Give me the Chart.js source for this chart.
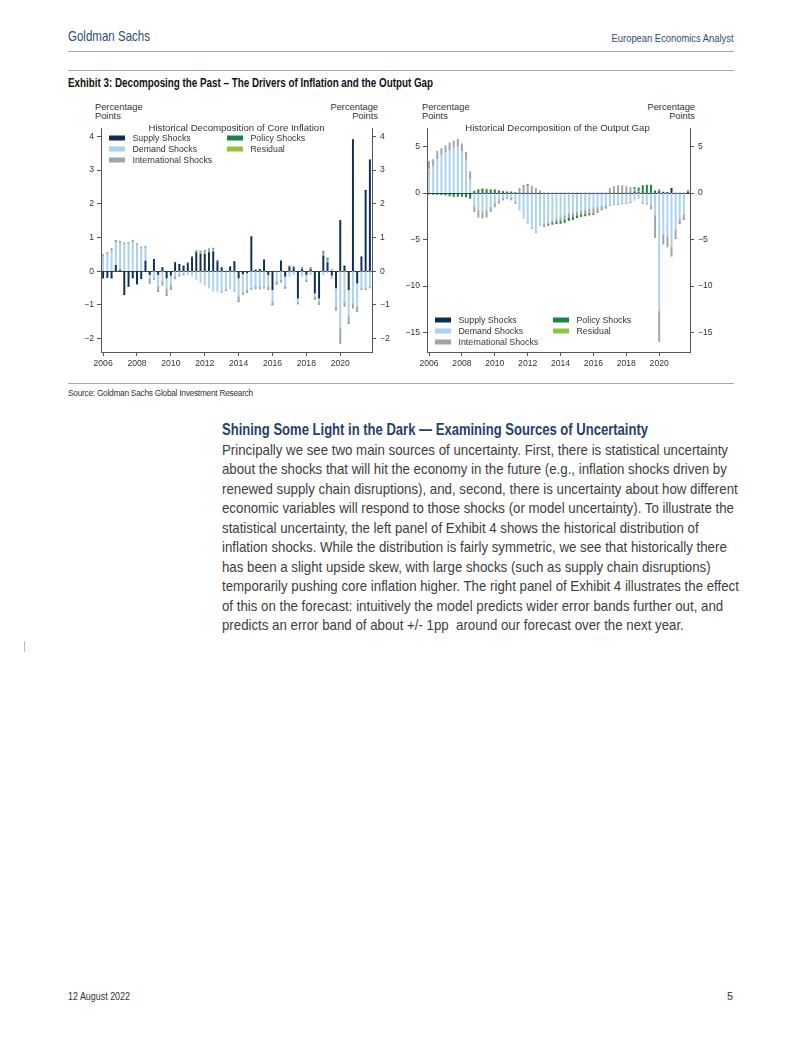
<!DOCTYPE html>
<html>
<head>
<meta charset="utf-8">
<script src="https://cdn.jsdelivr.net/npm/chart.js@4.4.1/dist/chart.umd.min.js"></script>
<style>
  html,body{margin:0;padding:0;background:#fff;}
  body{width:802px;height:1037px;position:relative;overflow:hidden;font-family:"Liberation Sans",Arial,sans-serif;-webkit-font-smoothing:antialiased;}
  .abs{position:absolute;white-space:nowrap;}
  .rule{position:absolute;left:68px;width:666px;height:1px;background:#a8a8a8;}
  .pp{position:absolute;font-family:"Liberation Sans",Arial,sans-serif;font-size:9.3px;line-height:9px;color:#333;}
  #para{position:absolute;left:222px;top:440px;font-size:15px;line-height:19.45px;color:#3d3d3d;white-space:nowrap;}
</style>
</head>
<body>
<div class="abs fit" data-w="82" style="left:68px;top:27px;font-size:14.5px;line-height:18px;color:#2e4d70;">Goldman Sachs</div>
<div class="abs fit" data-w="122" data-o="right" style="right:68px;top:30px;font-size:11.5px;line-height:16px;color:#2e4d70;">European Economics Analyst</div>
<div class="rule" style="top:51px;"></div>
<div class="rule" style="top:70px;"></div>
<div class="abs fit" data-w="365" style="left:68px;top:75px;font-size:12px;line-height:16px;font-weight:bold;color:#111;">Exhibit 3: Decomposing the Past – The Drivers of Inflation and the Output Gap</div>

<div class="pp" style="left:95px;top:103px;">Percentage<br>Points</div>
<div class="pp" style="left:328px;top:103px;width:50px;text-align:right;">Percentage<br>Points</div>
<div class="pp" style="left:422px;top:103px;">Percentage<br>Points</div>
<div class="pp" style="left:645px;top:103px;width:50px;text-align:right;">Percentage<br>Points</div>

<div style="position:absolute;left:60px;top:95px;width:335px;height:280px;"><canvas id="c1" width="335" height="280"></canvas></div>
<div style="position:absolute;left:400px;top:95px;width:340px;height:280px;"><canvas id="c2" width="340" height="280"></canvas></div>

<div class="rule" style="top:383px;"></div>
<div class="abs" style="left:68px;top:388px;font-size:8.3px;line-height:11px;letter-spacing:-0.25px;color:#333;">Source: Goldman Sachs Global Investment Research</div>

<div class="abs fit" data-w="426" style="left:222px;top:420px;font-size:16px;line-height:20px;font-weight:bold;color:#1f416b;">Shining Some Light in the Dark — Examining Sources of Uncertainty</div>
<div id="para"><span id="l1">Principally we see two main sources of uncertainty. First, there is statistical uncertainty</span><br>about the shocks that will hit the economy in the future (e.g., inflation shocks driven by<br>renewed supply chain disruptions), and, second, there is uncertainty about how different<br>economic variables will respond to those shocks (or model uncertainty). To illustrate the<br>statistical uncertainty, the left panel of Exhibit 4 shows the historical distribution of<br>inflation shocks. While the distribution is fairly symmetric, we see that historically there<br>has been a slight upside skew, with large shocks (such as supply chain disruptions)<br>temporarily pushing core inflation higher. The right panel of Exhibit 4 illustrates the effect<br>of this on the forecast: intuitively the model predicts wider error bands further out, and<br>predicts an error band of about +/- 1pp&nbsp; around our forecast over the next year.</div>

<div style="position:absolute;left:24px;top:641px;width:1px;height:11px;background:#bbb;"></div>

<div class="abs fit" data-w="62" style="left:68px;top:989px;font-size:11.5px;line-height:14px;color:#333;">12 August 2022</div>
<div class="abs" style="right:69px;top:989px;font-size:11px;line-height:14px;color:#333;">5</div>

<script>
// ---------- DATA ----------
const quarters = [];
for (let y = 2006; y <= 2021; y++) { for (let q = 1; q <= 4; q++) quarters.push(y + 'Q' + q); }
const seriesNames = ['Supply Shocks', 'Demand Shocks', 'International Shocks', 'Policy Shocks', 'Residual'];
const seriesColors = ['#0e2f53', '#a9d2ef', '#a3a3a3', '#17843f', '#8cc540'];

// Core inflation decomposition (pp)
const supplyInf = [-0.2,-0.18,-0.2,0.17,0.03,-0.7,-0.45,-0.2,-0.38,-0.22,0.3,-0.1,0.35,-0.1,0.1,-0.2,
  -0.12,0.25,0.2,0.15,0.22,0.4,0.55,0.5,0.5,0.55,0.57,0.28,0.1,0.0,0.12,0.28,
  -0.2,-0.08,-0.05,1.02,0.03,0.05,0.33,-0.1,-0.55,0.0,0.3,-0.15,0.12,0.1,-0.8,0.05,
  -0.1,0.05,-0.65,-0.8,0.45,0.25,-0.12,-0.5,1.5,0.15,-0.55,3.9,-0.35,0.42,2.4,3.3];
const demandInf = [0.45,0.5,0.6,0.68,0.8,0.8,0.82,0.85,0.78,0.68,0.4,-0.12,-0.2,-0.35,-0.3,-0.32,
  -0.3,-0.15,-0.1,-0.08,-0.1,-0.15,-0.25,-0.35,-0.42,-0.5,-0.6,-0.6,-0.6,-0.55,-0.52,-0.55,
  -0.55,-0.55,-0.5,-0.5,-0.45,-0.45,-0.45,-0.35,-0.35,-0.3,-0.25,-0.3,-0.15,-0.1,-0.12,-0.15,
  -0.15,-0.1,-0.1,-0.1,-0.1,-0.05,-0.1,-0.55,-1.7,-0.9,-0.8,-0.95,-0.7,-0.5,-0.5,-0.45];
const intlInf = [0.05,0.06,0.08,0.05,0.05,0.05,0.04,0.05,0.04,0.04,0.02,-0.13,-0.05,-0.15,-0.12,-0.2,
  -0.12,-0.08,-0.05,-0.04,0.03,0.03,0.05,0.08,0.1,0.1,0.1,0.03,-0.03,-0.02,0.02,-0.05,
  -0.15,-0.05,-0.08,-0.05,-0.08,-0.08,-0.06,-0.1,-0.1,-0.08,-0.08,-0.05,0.03,0.03,-0.05,0.05,
  -0.05,0.05,-0.08,-0.08,0.1,0.1,0.05,-0.1,-0.45,-0.15,-0.2,-0.15,-0.15,-0.05,-0.05,-0.05];
const policyInf = [0,0,0,0,0,0,0,0,0,0,0,0,0,0,0,0,
  0,0,0,0,0,0,0,0,0,0,0,0,0,0,0,0,
  0,0,0,0,0,0,0,0,0,0,0,0,0,0,0,0,
  0,0,0,0,0.02,0.02,0,0,0,0,0,0,0,0,0,0];
const residualInf = [0,0,0,0.01,0,0,0,0.02,0,0,0,0,0,0,0,0,
  0,0,0,0,0,0,0,0.02,0.02,0.02,0.02,0,0,0,0,0,
  0,0,0,0,0,0,0,0,0,0,0,0,0,0,0,0,
  0,0,0,0,0.03,0.03,0,0,0,0,0,0,0,0,0,0];

// Output gap decomposition (pp)
const supplyGap = [-0.05,-0.05,-0.05,-0.05,-0.05,-0.05,-0.05,-0.05,-0.05,-0.05,-0.1,0,0,0,0,0,
  0,0,0,0,0,0,0,0,0,0,0,0,0,0,0,0,
  0,0,0,0,0,0,0,0,0,0,0,0,0,0,0,0,
  0,0,0.1,0.05,0,0,0,0,0.1,0.05,0.05,0.5,0,0,0,0.1];
const demandGap = [2.6,2.9,3.7,4.1,4.4,4.6,4.9,5.0,4.5,3.6,1.5,
  -1.4,-1.9,-2.0,-1.9,-1.5,-1.1,-0.8,-0.55,-0.4,-0.5,-0.9,-1.8,-2.7,-3.3,-3.8,-4.2,-3.5,
  -3.3,-3.2,-3.0,-2.8,-2.6,-2.4,-2.2,-2.1,-2.0,-1.9,-1.8,-1.7,-1.6,-1.5,-1.4,-1.3,
  -1.3,-1.2,-1.2,-1.1,-1.1,-1.0,-0.8,-0.6,
  -1.0,-1.1,-1.3,
  -2.4,-12.7,-4.5,-4.7,-5.8,-4.0,-2.8,-2.3,0];
const intlGap = [0.8,0.7,0.8,0.7,0.7,0.8,0.7,0.8,0.8,0.8,0.8,
  -0.6,-0.7,-0.7,-0.7,-0.5,-0.4,-0.3,-0.2,-0.2,-0.25,-0.2,0.4,0.75,0.9,0.75,0.5,0.25,
  -0.2,-0.15,-0.2,-0.3,-0.4,-0.45,-0.45,-0.45,-0.4,-0.4,-0.45,-0.5,-0.6,-0.5,-0.4,-0.3,
  0.5,0.7,0.8,0.8,0.7,0.6,0.4,0.2,
  -0.1,-0.1,-0.4,
  -2.4,-3.3,-1.0,-1.1,-1.0,-0.9,-0.5,-0.5,0.15];
const policyGap = [-0.05,-0.08,-0.1,-0.12,-0.15,-0.25,-0.3,-0.3,-0.3,-0.35,-0.45,
  0.15,0.3,0.4,0.35,0.3,0.3,0.2,0.15,0.1,0.1,0.05,0.05,0.05,0.05,0,0,0,
  -0.05,-0.1,-0.15,-0.2,-0.25,-0.3,-0.3,-0.3,-0.25,-0.2,-0.2,-0.15,-0.1,-0.05,0,0,
  0,0,0,0,0,0,0.1,0.3,
  0.8,0.85,0.85,
  0.25,0.1,0.05,0,0,0,0,0,0];
const residualGap = [0,0,0,0,0,0,0,0,0,0,0,
  0.1,0.1,0.1,0.1,0.1,0.1,0.1,0.05,0.05,0.05,0,0,0,0,0,0,0,
  0,0,0,0,0,0,0,0,0,0,0,0,0,0,0,0,
  0,0,0,0,0,0,0,0,
  0,0,0,
  0,0.2,0,0,0,0,0,0,0];

const yTicksInf = {min: -2.4, max: 4.25, step: 1};
const yTicksGap = {min: -17.1, max: 7, step: 5};
const yearLabelEvery = 8;

// ---------- TEXT FITTING (page typography is condensed) ----------
document.querySelectorAll('.fit').forEach(el => {
  const w = el.getBoundingClientRect().width;
  el.style.transformOrigin = (el.dataset.o || 'left') + ' center';
  el.style.transform = 'scaleX(' + (parseFloat(el.dataset.w) / w) + ')';
});
(function(){
  const para = document.getElementById('para');
  const w = document.getElementById('l1').getBoundingClientRect().width;
  para.style.transformOrigin = 'left top';
  para.style.transform = 'scaleX(' + (506 / w) + ')';
})();

// ---------- CHART SETUP ----------
const FONT = '"Liberation Sans", Arial, sans-serif';
const AXIS = '#555';
function minusFmt(v){ return v < 0 ? '\u2212' + Math.abs(v) : String(v); }

const overlayPlugin = {
  id: 'overlay',
  afterDraw(chart, args, o) {
    const {ctx, chartArea: a} = chart;
    ctx.save();
    ctx.fillStyle = '#333';
    ctx.font = '9.6px ' + FONT;
    ctx.textAlign = 'center';
    ctx.textBaseline = 'middle';
    ctx.fillText(o.title, (a.left + a.right) / 2 + o.titleDx, a.top + 0.5);
    ctx.textAlign = 'left';
    ctx.font = '8.8px ' + FONT;
    const slots = [[0,0],[0,1],[0,2],[1,0],[1,1]];
    slots.forEach((s, i) => {
      const ds = chart.data.datasets[i];
      const x = a.left + o.lx + s[0] * o.colW;
      const y = a.top + o.ly + s[1] * o.rowH;
      ctx.fillStyle = ds.backgroundColor;
      ctx.fillRect(x, y - 2.5, 16, 5);
      ctx.fillStyle = '#333';
      ctx.fillText(ds.label, x + 23.5, y + 0.5);
    });
    ctx.restore();
  }
};

function makeChart(id, series, yr, leftW, rightW, overlay) {
  const datasets = series.map((d, i) => ({
    label: seriesNames[i], data: d, backgroundColor: seriesColors[i],
    borderWidth: 0, barThickness: 1.3, stack: 's'
  }));
  return new Chart(document.getElementById(id), {
    type: 'bar',
    data: { labels: quarters, datasets },
    plugins: [overlayPlugin],
    options: {
      responsive: false, animation: false,
      layout: { padding: { top: 33, left: 0, right: 0, bottom: 0 } },
      plugins: { legend: { display: false }, tooltip: { enabled: false }, overlay },
      scales: {
        x: {
          stacked: true, offset: true,
          afterFit(s) { s.height = 23; },
          grid: { drawOnChartArea: false, offset: false, tickLength: 4,
                  tickColor: c => (c.index % yearLabelEvery === 0 ? AXIS : 'rgba(0,0,0,0)') },
          border: { display: true, color: AXIS, width: 1 },
          ticks: { autoSkip: false, maxRotation: 0, minRotation: 0, padding: 2, color: '#333',
                   font: { family: FONT, size: 8.6 },
                   callback: (v, i) => (i % yearLabelEvery === 0 ? quarters[i].slice(0, 4) : '') }
        },
        y: {
          stacked: true, position: 'left', min: yr.min, max: yr.max,
          afterFit(s) { s.width = leftW; },
          grid: { drawOnChartArea: true, tickLength: 4, tickColor: AXIS,
                  color: c => (c.tick && c.tick.value === 0 ? '#444' : 'rgba(0,0,0,0)') },
          border: { display: true, color: AXIS, width: 1 },
          ticks: { stepSize: yr.step, includeBounds: false, padding: 3, color: '#333',
                   font: { family: FONT, size: 8.6 }, callback: minusFmt }
        },
        y2: {
          position: 'right', min: yr.min, max: yr.max,
          afterFit(s) { s.width = rightW; },
          grid: { drawOnChartArea: false, tickLength: 4, tickColor: AXIS },
          border: { display: true, color: AXIS, width: 1 },
          ticks: { stepSize: yr.step, includeBounds: false, padding: 4, color: '#333',
                   font: { family: FONT, size: 8.6 }, callback: minusFmt }
        }
      }
    }
  });
}

makeChart('c1', [supplyInf, demandInf, intlInf, policyInf, residualInf], yTicksInf, 41, 23,
  { title: 'Historical Decomposition of Core Inflation', titleDx: 0, lx: 8, ly: 10, colW: 118, rowH: 11 });
makeChart('c2', [supplyGap, demandGap, intlGap, policyGap, residualGap], yTicksGap, 27, 50,
  { title: 'Historical Decomposition of the Output Gap', titleDx: -1, lx: 8, ly: 192, colW: 118, rowH: 11 });
</script>
</body>
</html>
